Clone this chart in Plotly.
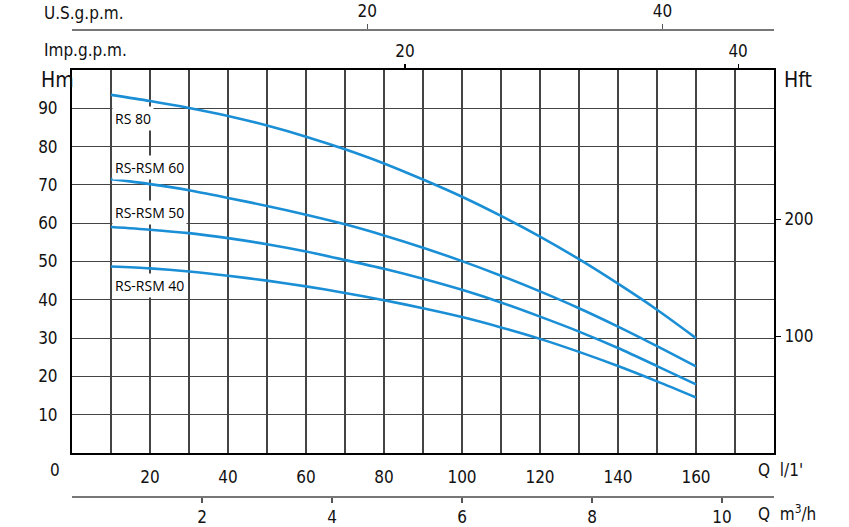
import plotly.graph_objects as go

# ---- data (flow in l/min, head in m) ----
flow_lpm = [10, 20, 30, 40, 50, 60, 70, 80, 90, 100, 110, 120, 130, 140, 150, 160]
head_rs80 = [93.5, 91.9, 90.1, 88.0, 85.5, 82.6, 79.3, 75.6, 71.4, 66.9, 61.9, 56.5, 50.6, 44.2, 37.4, 30.0]
head_rs60 = [71.5, 70.2, 68.6, 66.6, 64.5, 62.2, 59.7, 56.8, 53.6, 50.1, 46.3, 42.2, 37.8, 33.0, 27.9, 22.6]
head_rs50 = [59.0, 58.3, 57.4, 56.1, 54.5, 52.6, 50.4, 48.1, 45.5, 42.6, 39.3, 35.6, 31.7, 27.4, 22.7, 17.9]
head_rs40 = [48.7, 48.2, 47.4, 46.3, 45.0, 43.5, 41.8, 39.9, 37.8, 35.5, 32.8, 29.8, 26.4, 22.7, 18.7, 14.5]
series_names = ["RS 80", "RS-RSM 60", "RS-RSM 50", "RS-RSM 40"]
label_heads = [87.4, 74.6, 62.9, 43.8]   # where each curve name sits (m)

x_ticks_lpm = [20, 40, 60, 80, 100, 120, 140, 160]
y_ticks_m = [10, 20, 30, 40, 50, 60, 70, 80, 90]
y_ticks_ft = [100, 200]
x_ticks_m3h = [2, 4, 6, 8, 10]
x_ticks_usgpm = [20, 40]
x_ticks_impgpm = [20, 40]

# unit conversions
LPM_MAX = 180
HEAD_MAX = 100
FT_PER_M = 3.28084
LPM_PER_M3H = 1000 / 60
LPM_PER_USGPM = 3.785
LPM_PER_IMPGPM = 4.27   # as drawn on the reference scale

BLUE = "#1a8fd6"
GRID = "#444444"
AX_FONT = dict(family="DejaVu Sans Condensed, Liberation Sans Narrow, Roboto", size=17, color="#111")
LBL_FONT = dict(family="Open Sans, Noto Sans", size=14, color="#000")

fig = go.Figure()
for name, h in zip(series_names, [head_rs80, head_rs60, head_rs50, head_rs40]):
    fig.add_trace(go.Scatter(x=flow_lpm, y=h, mode="lines", name=name,
                             line=dict(color=BLUE, width=2.6, shape="spline", smoothing=0.8),
                             showlegend=False, hoverinfo="skip"))

# dummy traces to activate extra axes
fig.add_trace(go.Scatter(x=[None], y=[None], yaxis="y2", showlegend=False))
fig.add_trace(go.Scatter(x=[None], y=[None], xaxis="x2", showlegend=False))
fig.add_trace(go.Scatter(x=[None], y=[None], xaxis="x3", showlegend=False))
fig.add_trace(go.Scatter(x=[None], y=[None], xaxis="x4", showlegend=False))

W, H = 849, 527
ml, mr, mt, mb = 72, 75, 25, 25
ph = H - mt - mb
plot_top_px, plot_bot_px = 70, 453
dom = [(H - mb - plot_bot_px) / ph, (H - mb - plot_top_px) / ph]

def py(px):
    return (H - mb - px) / ph

def pxx(px):
    return (px - ml) / (W - ml - mr)

fig.update_layout(
    width=W, height=H,
    margin=dict(l=ml, r=mr, t=mt, b=mb, autoexpand=False),
    paper_bgcolor="white", plot_bgcolor="white",
    font=AX_FONT,
    xaxis=dict(range=[0, LPM_MAX], tickvals=x_ticks_lpm, showgrid=True, gridcolor=GRID, gridwidth=1.1,
               minor=dict(dtick=10, tick0=0, showgrid=True, gridcolor=GRID, gridwidth=1.1),
               showline=True, linecolor="black", linewidth=2, mirror=True, automargin=False,
               ticks="", ticklabelstandoff=8, zeroline=False, fixedrange=True),
    yaxis=dict(range=[0, HEAD_MAX], domain=dom, tickvals=y_ticks_m, showgrid=True, gridcolor=GRID, gridwidth=1.1,
               showline=True, linecolor="black", linewidth=2, mirror=True, automargin=False,
               ticks="", ticklabelstandoff=9, zeroline=False, fixedrange=True),
    yaxis2=dict(range=[0, HEAD_MAX * FT_PER_M], overlaying="y", side="right", tickvals=y_ticks_ft,
                showgrid=False, ticks="outside", ticklen=6, tickcolor="black", tickwidth=1.2,
                showline=False, zeroline=False, automargin=False),
    xaxis2=dict(range=[0, LPM_MAX / LPM_PER_IMPGPM], overlaying="x", side="top", anchor="y",
                tickvals=x_ticks_impgpm, ticks="outside", ticklen=5, tickcolor="black", tickwidth=1.2,
                showgrid=False, showline=False, zeroline=False, automargin=False),
    xaxis3=dict(range=[0, LPM_MAX / LPM_PER_USGPM], overlaying="x", side="top", anchor="free",
                position=py(29), tickvals=x_ticks_usgpm, ticks="outside", ticklen=5, tickcolor="#555",
                tickwidth=1.2, showgrid=False, showline=True, linecolor="#777", linewidth=1.5,
                zeroline=False, automargin=False),
    xaxis4=dict(range=[0, LPM_MAX / LPM_PER_M3H], overlaying="x", side="bottom", anchor="free",
                position=py(496), tickvals=x_ticks_m3h, ticks="outside", ticklen=5, tickcolor="#555",
                tickwidth=1.2, showgrid=False, showline=True, linecolor="#777", linewidth=1.5,
                zeroline=False, automargin=False),
)

# curve labels
for name, yv in zip(series_names, label_heads):
    fig.add_annotation(x=flow_lpm[0], y=yv, xref="x", yref="y", text=name, showarrow=False,
                       xanchor="left", yanchor="middle", bgcolor="white", borderpad=2,
                       font=LBL_FONT, xshift=1)

# axis titles
big = dict(AX_FONT, size=21)
texts = [
    ("U.S.g.p.m.", pxx(42), py(13), "left", AX_FONT),
    ("Imp.g.p.m.", pxx(42), py(50), "left", AX_FONT),
    ("Hm", pxx(39), py(80), "left", big),
    ("Hft", pxx(782), py(80), "left", big),
    ("0", pxx(55), py(470), "center", AX_FONT),
    ("Q  l/1'", pxx(756), py(470), "left", AX_FONT),
    ("Q  m<sup>3</sup>/h", pxx(756), py(513), "left", AX_FONT),
]
for t, x, y, xa, f in texts:
    fig.add_annotation(x=x, y=y, xref="paper", yref="paper", text=t, showarrow=False,
                       xanchor=xa, yanchor="middle", font=f)

fig.write_html("out.html", config={"displayModeBar": False, "staticPlot": True},
               post_script="document.body.style.margin='0';document.body.style.overflow='hidden';")
